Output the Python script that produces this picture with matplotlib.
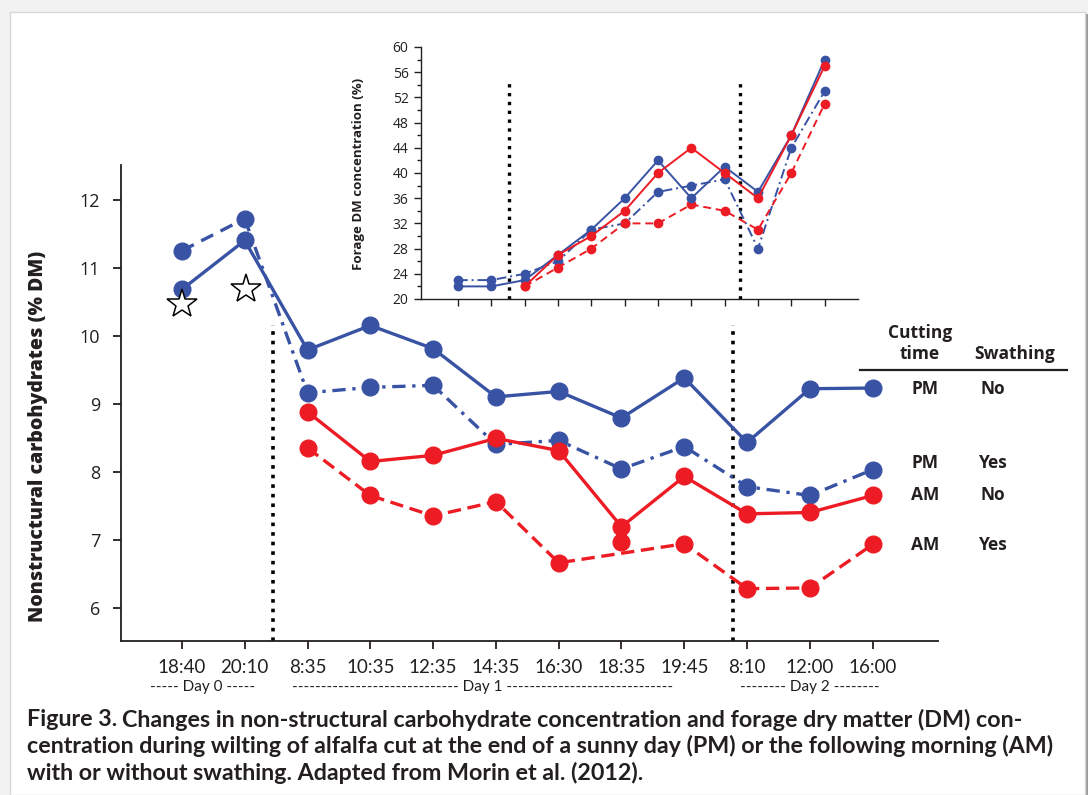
import matplotlib
matplotlib.use("Agg")
import matplotlib.pyplot as plt
from matplotlib.patches import Rectangle
from matplotlib.lines import Line2D
import numpy as np

# ---- data ----
times = ["18:40", "20:10", "8:35", "10:35", "12:35", "14:35", "16:30",
         "18:35", "19:45", "8:10", "12:00", "16:00"]

# nonstructural carbohydrates (% DM)
nsc_pm_no = [10.68, 11.40, 9.79, 10.15, 9.81, 9.10, 9.18, 8.79, 9.38, 8.43, 9.22, 9.23]
nsc_pm_yes = [11.25, 11.72, 9.16, 9.24, 9.27, 8.40, 8.46, 8.04, 8.37, 7.78, 7.65, 8.03]
nsc_am_no = [np.nan, np.nan, 8.88, 8.15, 8.24, 8.49, 8.31, 7.19, 7.93, 7.38, 7.40, 7.65]
nsc_am_yes = [np.nan, np.nan, 8.35, 7.65, 7.35, 7.56, 6.66, 6.97, 6.94, 6.28, 6.29, 6.93]
star_vals = [10.46, 10.69]  # open stars under day 0 points

# forage DM concentration (%) - inset
dm_pm_no = [22, 22, 23, 27, 31, 36, 42, 36, 41, 37, 46, 58]
dm_pm_yes = [23, 23, 24, 26, 31, 32, 37, 38, 39, 28, 44, 53]
dm_am_no = [np.nan, np.nan, 22, 27, 30, 34, 40, 44, 40, 36, 46, 57]
dm_am_yes = [np.nan, np.nan, 22, 25, 28, 32, 32, 35, 34, 31, 40, 51]

day_breaks = [1.45, 8.77]
inset_breaks = [1.53, 8.47]

BLUE = "#3953a4"
RED = "#ed1c24"
TXT = "#231f20"
NARROW = ["Lato", "DejaVu Sans"]
SANS = ["Open Sans", "DejaVu Sans"]

W, H = 1088, 795
fig = plt.figure(figsize=(W / 100, H / 100), dpi=100)
fig.patch.set_facecolor("#f2f2f2")
fig.patches.append(Rectangle((12 / W, 0), 1076 / W, 781 / H, transform=fig.transFigure,
                             facecolor="#9a9a9a", edgecolor="none", zorder=-11))
fig.patches.append(Rectangle((10 / W, 0), 1075 / W, 783 / H, transform=fig.transFigure,
                             facecolor="white", edgecolor="#d8d8d8", lw=1, zorder=-10))
renderer = fig.canvas.get_renderer()

x = np.arange(len(times))

# ---- main axes ----
ax = fig.add_axes([121 / W, 1 - 641 / H, 817 / W, 476 / H])
ax.set_facecolor("none")
ax.set_xlim(-0.97, 12.04)
ax.set_ylim(5.51, 12.51)
for s in ["top", "right"]:
    ax.spines[s].set_visible(False)
for s in ["left", "bottom"]:
    ax.spines[s].set_linewidth(1.3)
    ax.spines[s].set_color(TXT)

lw = 2.4
ms = 12
ax.plot(x, nsc_pm_no, color=BLUE, lw=lw, marker="o", ms=ms, zorder=4)
# day 0 part of PM/Yes is plain dashed, the rest dash-dot
ax.plot(x[:2], nsc_pm_yes[:2], color=BLUE, lw=lw, ls=(0, (4, 2.5)), zorder=3)
ax.plot(x[1:], nsc_pm_yes[1:], color=BLUE, lw=lw, ls=(0, (4, 2, 1, 2)), zorder=3)
ax.plot(x, nsc_pm_yes, color=BLUE, lw=0, marker="o", ms=ms, zorder=3)
ax.plot(x, nsc_am_no, color=RED, lw=lw, marker="o", ms=ms, zorder=4)
# the 18:35 AM/Yes point sits off the dashed line
am_yes_line = np.array(nsc_am_yes, dtype=float)
keep = np.ones(len(x), bool)
keep[7] = False
ax.plot(x[keep], am_yes_line[keep], color=RED, lw=lw, ls=(0, (4, 2)), zorder=3)
ax.plot(x, nsc_am_yes, color=RED, lw=0, marker="o", ms=ms, zorder=3)
ax.plot(x[:2] + np.array([0.0, 0.02]), star_vals, ls="none", marker="*", ms=22,
        mfc="white", mec="black", mew=1.1, zorder=5)

for b in day_breaks:
    ax.axvline(b, ymin=0, ymax=0.664, color="black", ls=":", lw=2.6, zorder=2)

ax.set_xticks(x)
ax.set_xticklabels(times, family=NARROW, fontsize=13.5, color=TXT)
ax.set_yticks([6, 7, 8, 9, 10, 11, 12])
ax.set_yticklabels(["6", "7", "8", "9", "10", "11", "12"], family=SANS, fontsize=13, color=TXT)
ax.tick_params(axis="x", length=6, width=1.3, pad=7, color=TXT)
ax.tick_params(axis="y", length=6, width=1.3, pad=9, color=TXT)
ax.set_ylabel("Nonstructural carbohydrates (% DM)", family=SANS, fontsize=14,
              weight="heavy", color=TXT)
ax.yaxis.set_label_coords(-0.089, 0.43)


def fit_dashes(word, left, right, ypx, size=10.5):
    # pad a day label with hyphens until it spans left..right pixels
    n = 1
    t = fig.text((left + right) / 2 / W, 1 - ypx / H, "", ha="center", va="center",
                 family=NARROW, fontsize=size, color=TXT)
    while True:
        t.set_text("-" * (n + 1) + " " + word + " " + "-" * (n + 1))
        if t.get_window_extent(renderer).width > right - left:
            break
        n += 1
    t.set_text("-" * n + " " + word + " " + "-" * n)


fit_dashes("Day 0", 148, 258, 687, 11)
fit_dashes("Day 1", 289, 676, 687, 11)
fit_dashes("Day 2", 738, 881, 687, 11)

# ---- labels at the line ends ----
lab_kw = dict(ha="center", va="center", family=SANS, fontsize=12.5, weight="bold", color=TXT)
fig.text(920 / W, 1 - 333 / H, "Cutting", **lab_kw)
fig.text(920 / W, 1 - 354 / H, "time", **lab_kw)
fig.text(1015 / W, 1 - 354 / H, "Swathing", **lab_kw)
fig.lines.append(Line2D([860 / W, 1067 / W], [1 - 370 / H, 1 - 370 / H],
                        transform=fig.transFigure, color=TXT, lw=1.6))
end_labels = [("PM", "No", 389), ("PM", "Yes", 463), ("AM", "No", 495), ("AM", "Yes", 545)]
for cut, sw, py in end_labels:
    fig.text(925 / W, 1 - py / H, cut, **lab_kw)
    fig.text(993 / W, 1 - py / H, sw, **lab_kw)

# ---- inset ----
ins = fig.add_axes([421 / W, 1 - 299 / H, 437 / W, 252 / H])
ins.set_facecolor("none")
ins.set_xlim(-1.11, 12.0)
ins.set_ylim(20, 60)
for s in ["top", "right"]:
    ins.spines[s].set_visible(False)
for s in ["left", "bottom"]:
    ins.spines[s].set_linewidth(1.0)
    ins.spines[s].set_color(TXT)
ilw = 1.4
ims = 6
ins.plot(x, dm_pm_no, color=BLUE, lw=ilw, marker="o", ms=ims, zorder=4)
ins.plot(x, dm_pm_yes, color=BLUE, lw=ilw, ls=(0, (5, 2, 1, 2)), marker="o", ms=ims, zorder=3)
ins.plot(x, dm_am_no, color=RED, lw=ilw, marker="o", ms=ims, zorder=4)
ins.plot(x, dm_am_yes, color=RED, lw=ilw, ls=(0, (4, 2.5)), marker="o", ms=ims, zorder=3)
for b in inset_breaks:
    ins.axvline(b, ymin=0, ymax=0.861, color="black", ls=":", lw=2.4, zorder=2)
ins.set_xticks(x)
ins.set_xticklabels([])
ins.set_yticks(np.arange(20, 61, 4))
ins.set_yticks(np.arange(22, 60, 4), minor=True)
ins.set_yticklabels([str(v) for v in range(20, 61, 4)], family=SANS, fontsize=10, color=TXT)
ins.tick_params(axis="both", which="major", length=5, width=1, color=TXT, pad=4)
ins.tick_params(axis="y", which="minor", length=3, width=1, color=TXT)
ins.set_ylabel("Forage DM concentration (%)", family=SANS, fontsize=9.5, weight="bold", color=TXT)
ins.yaxis.set_label_coords(-0.128, 0.496)

# ---- caption ----
cap_lines = [
    "Changes in non-structural carbohydrate concentration and forage dry matter (DM) con-",
    "centration during wilting of alfalfa cut at the end of a sunny day (PM) or the following morning (AM)",
    "with or without swathing. Adapted from Morin et al. (2012).",
]
cap_kw = dict(family=NARROW, color=TXT, va="center", ha="left", weight="bold")
probe = fig.text(27 / W, 1 - 746 / H, cap_lines[1], fontsize=15, **cap_kw)
csize = 15 * 1030 / probe.get_window_extent(renderer).width
probe.remove()

t = fig.text(27 / W, 1 - 720 / H, "Figure 3.", fontsize=csize, **cap_kw)
bb = t.get_window_extent(renderer)
fig.text((bb.x1 + 5) / W, 1 - 720 / H, cap_lines[0], fontsize=csize, **cap_kw)
fig.text(27 / W, 1 - 746 / H, cap_lines[1], fontsize=csize, **cap_kw)
fig.text(27 / W, 1 - 773 / H, cap_lines[2], fontsize=csize, **cap_kw)

fig.savefig("out.png", dpi=100, facecolor=fig.get_facecolor())
